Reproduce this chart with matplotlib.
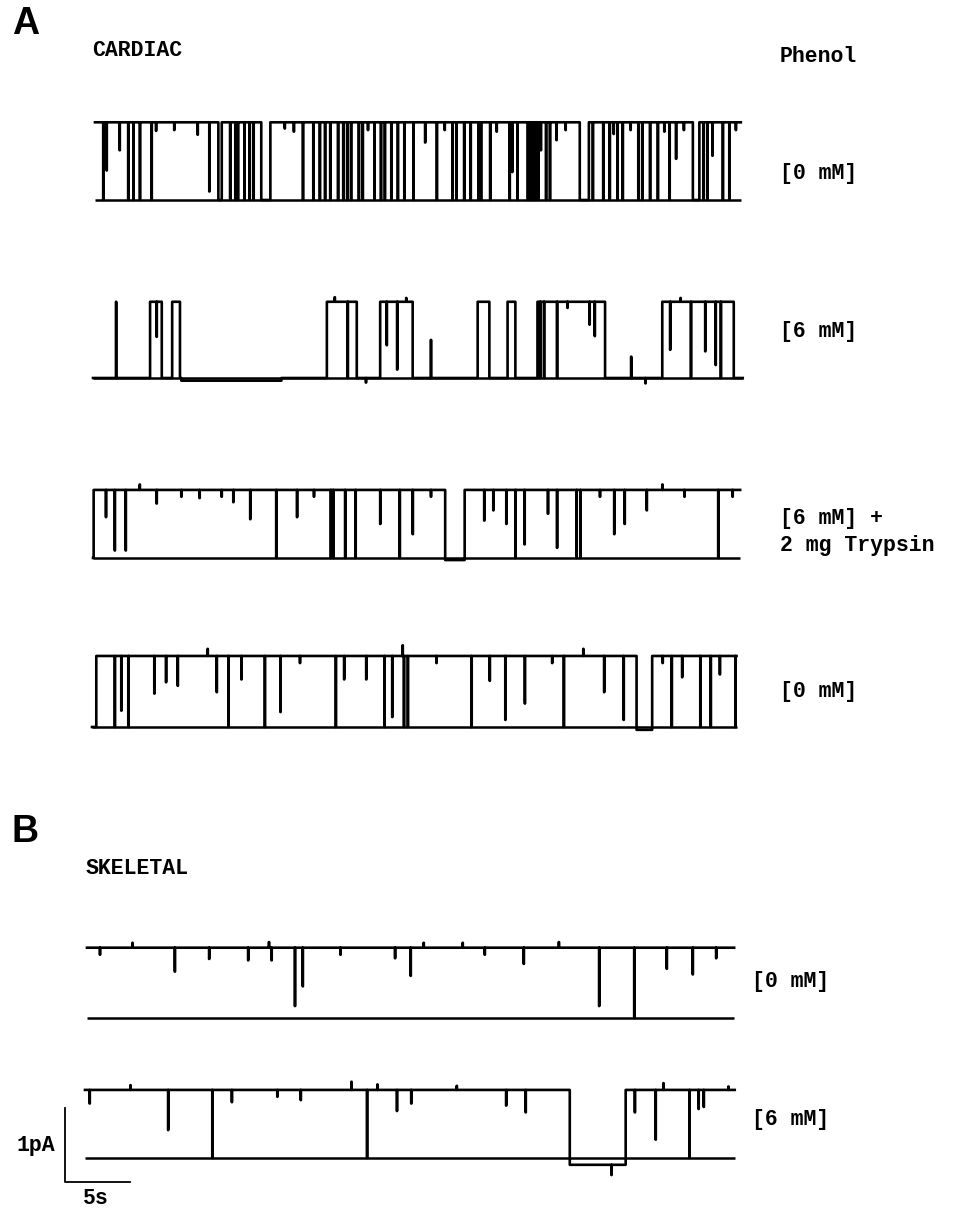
import numpy as np
import matplotlib.pyplot as plt

# single-channel records, time in s, level as fraction of unitary current
# (1 = open, 0 = closed); spikes are brief excursions (t, level)

a1_dur = 49.7
a1_amp = 1.05
a1_base = 1
a1_periods = [(9.5, 9.75, 0), (12.8, 13.5, 0), (37.3, 38.0, 0), (46.0, 46.5, 0)]
a1_spikes = [(0.64, 0), (2.56, 0), (2.95, 0), (3.46, 0), (4.36, 0), (10.4, 0), (10.8, 0),
             (11.0, 0), (11.5, 0), (11.9, 0), (12.2, 0), (16.0, 0), (16.8, 0), (17.3, 0),
             (17.7, 0), (18.1, 0), (18.7, 0), (19.1, 0), (19.4, 0), (19.7, 0), (20.3, 0),
             (20.6, 0), (21.5, 0), (22.0, 0), (22.3, 0), (22.8, 0), (23.3, 0), (23.8, 0),
             (24.5, 0), (26.3, 0), (27.5, 0), (27.8, 0), (28.4, 0), (28.9, 0), (29.5, 0),
             (29.7, 0), (30.4, 0), (31.9, 0), (32.5, 0), (33.3, 0), (33.5, 0), (33.7, 0),
             (33.9, 0), (34.1, 0), (34.7, 0), (35.0, 0), (38.3, 0), (39.1, 0), (39.6, 0),
             (40.2, 0), (40.6, 0), (41.8, 0), (42.1, 0), (42.7, 0), (43.3, 0), (44.2, 0),
             (46.8, 0), (47.1, 0), (48.3, 0), (48.8, 0),
             (0.9, 0.38), (1.9, 0.64), (4.7, 0.89), (7.9, 0.84), (8.8, 0.11), (25.4, 0.74),
             (32.1, 0.36), (34.3, 0.64), (35.5, 0.77), (44.7, 0.53), (47.5, 0.57),
             (6.1, 0.9), (14.6, 0.92), (15.3, 0.88), (21.0, 0.9), (26.9, 0.9), (30.9, 0.88),
             (36.2, 0.9), (39.9, 0.85), (41.2, 0.9), (43.8, 0.88), (45.3, 0.9), (49.3, 0.9)]

a2_dur = 50.0
a2_amp = 1.03
a2_base = 0
a2_periods = [(4.4, 5.3, 1), (6.1, 6.7, 1), (18.0, 20.3, 1), (22.1, 24.6, 1), (29.6, 30.5, 1),
              (31.9, 32.5, 1), (34.2, 39.4, 1), (43.8, 49.3, 1), (6.8, 14.5, -0.035)]
a2_spikes = [(1.78, 1.0), (26.0, 0.5), (41.4, 0.28), (4.9, 0.54), (19.6, 0.0), (22.6, 0.43),
             (23.4, 0.11), (34.4, 0.0), (34.7, 0.0), (35.7, 0.0), (38.2, 0.7), (38.6, 0.55),
             (44.4, 0.37), (46.0, 0.0), (47.1, 0.35), (47.9, 0.17), (48.3, 0.0),
             (18.6, 1.06), (24.1, 1.05), (36.5, 0.92), (45.2, 1.05), (21.0, -0.06), (42.5, -0.07)]

a3_dur = 49.8
a3_amp = 0.92
a3_base = 1
a3_periods = [(0.0, 0.06, 0), (27.1, 28.6, -0.03)]
a3_spikes = [(14.1, 0), (18.3, 0), (18.5, 0), (19.4, 0), (20.2, 0), (23.6, 0), (32.5, 0),
             (37.2, 0), (37.5, 0), (48.1, 0), (1.68, 0.11), (2.53, 0.11),
             (1.0, 0.6), (4.9, 0.8), (10.8, 0.82), (12.1, 0.57), (15.7, 0.6), (22.1, 0.5),
             (24.6, 0.35), (30.1, 0.55), (30.8, 0.7), (31.8, 0.5), (33.2, 0.2), (35.0, 0.65),
             (35.7, 0.15), (40.1, 0.35), (40.9, 0.5), (42.6, 0.7),
             (3.6, 1.08), (6.8, 0.9), (8.2, 0.88), (9.9, 0.9), (17.0, 0.9), (26.0, 0.9),
             (39.0, 0.9), (43.8, 1.08), (45.5, 0.9), (49.2, 0.9)]

a4_dur = 49.6
a4_amp = 0.96
a4_base = 1
a4_periods = [(0.0, 0.34, 0), (41.9, 43.1, -0.04)]
a4_spikes = [(1.76, 0), (2.8, 0), (10.5, 0), (13.3, 0), (18.75, 0), (22.5, 0), (24.0, 0),
             (24.3, 0), (29.2, 0), (36.3, 0), (44.6, 0), (46.8, 0), (47.6, 0), (49.5, 0),
             (31.8, 0.1), (23.9, 1.15),
             (2.26, 0.23), (4.8, 0.47), (5.7, 0.63), (6.6, 0.58), (9.6, 0.49), (11.5, 0.67),
             (14.5, 0.21), (19.4, 0.67), (21.1, 0.67), (23.1, 0.14), (30.6, 0.65), (33.3, 0.33),
             (39.4, 0.49), (40.9, 0.1), (45.4, 0.7), (48.3, 0.74),
             (8.9, 1.1), (16.0, 0.9), (26.5, 0.9), (35.4, 0.9), (37.8, 1.1), (43.9, 0.9)]

b1_dur = 49.8
b1_amp = 0.95
b1_base = 1
b1_periods = []
b1_spikes = [(42.1, 0.0), (16.0, 0.17), (16.6, 0.45), (39.4, 0.17), (6.76, 0.66), (24.9, 0.6),
             (33.6, 0.77), (44.6, 0.7), (46.6, 0.62), (9.4, 0.84), (12.4, 0.82), (14.2, 0.82),
             (23.7, 0.85), (1.0, 0.9), (3.5, 1.07), (14.0, 1.08), (19.5, 0.9), (25.9, 1.07),
             (28.9, 1.07), (30.6, 0.9), (36.3, 1.08), (48.4, 0.85)]

b2_dur = 50.0
b2_amp = 0.92
b2_base = 1
b2_periods = [(37.3, 41.6, -0.1)]
b2_spikes = [(9.8, 0), (21.7, 0), (46.5, 0), (20.5, 1.12), (40.5, -0.25),
             (0.35, 0.8), (6.4, 0.41), (11.3, 0.82), (16.6, 0.85), (24.0, 0.69), (25.1, 0.8),
             (32.4, 0.77), (33.9, 0.67), (42.3, 0.67), (43.9, 0.27), (47.2, 0.72), (47.6, 0.75),
             (3.5, 1.07), (14.8, 0.9), (22.5, 1.08), (28.6, 1.06), (44.5, 1.1), (49.5, 1.05)]

traces = [
    (a1_dur, a1_amp, a1_base, a1_periods, a1_spikes),
    (a2_dur, a2_amp, a2_base, a2_periods, a2_spikes),
    (a3_dur, a3_amp, a3_base, a3_periods, a3_spikes),
    (a4_dur, a4_amp, a4_base, a4_periods, a4_spikes),
    (b1_dur, b1_amp, b1_base, b1_periods, b1_spikes),
    (b2_dur, b2_amp, b2_base, b2_periods, b2_spikes),
]
# where each trace starts (px) and its closed level (px)
starts_px = [95, 93, 93, 92, 87, 85]
closed_px = [200, 378, 558, 727, 1018, 1158]

W, H = 956, 1209
PX_S = 13.0    # px per second
PX_PA = 74.0   # px per pA
DT = 0.02


def build(dur, base, periods, spikes):
    t = np.arange(0, dur, DT)
    lev = np.full(t.size, float(base))
    for t0, t1, l in periods:
        lev[(t >= t0) & (t < t1)] = l
    for ts, l in spikes:
        i = min(int(round(ts / DT)), t.size - 1)
        lev[i] = l
    return t, lev


fig = plt.figure(figsize=(W / 100, H / 100), dpi=100)
ax = fig.add_axes([0, 0, 1, 1])
ax.axis('off')
ax.set_xlim(-95 / PX_S, (W - 95) / PX_S)
ax.set_ylim(0, H / PX_PA)

for (dur, amp, base, periods, spikes), sp, cp in zip(traces, starts_px, closed_px):
    x0 = (sp - 95) / PX_S
    y0 = (H - cp) / PX_PA
    t, lev = build(dur, base, periods, spikes)
    ax.plot([x0, x0 + dur], [y0, y0], color='k', lw=1.8, solid_capstyle='butt')
    ax.plot(x0 + t, y0 + lev * amp, color='k', lw=1.9, drawstyle='steps-mid')

# scale bar: 1 pA, 5 s
sb_x = (65 - 95) / PX_S
sb_y = (H - 1182) / PX_PA
ax.plot([sb_x, sb_x, sb_x + 5], [sb_y + 1, sb_y, sb_y], color='k', lw=1.3)

mono = dict(family='Liberation Mono', weight='bold', fontsize=15.5, va='center')


def ftext(x, y, s, **kw):
    fig.text(x / W, 1 - y / H, s, **kw)


ftext(12, 24, 'A', family='Liberation Sans', weight='bold', fontsize=27, va='center')
ftext(12, 832, 'B', family='Liberation Sans', weight='bold', fontsize=27, va='center')
ftext(92, 50, 'CARDIAC', **mono)
ftext(86, 868, 'SKELETAL', **mono)
ftext(780, 57, 'Phenol', **mono)
ftext(780, 174, '[0 mM]', **mono)
ftext(780, 331, '[6 mM]', **mono)
ftext(780, 519, '[6 mM] +', **mono)
ftext(780, 546, '2 mg Trypsin', **mono)
ftext(780, 691, '[0 mM]', **mono)
ftext(752, 982, '[0 mM]', **mono)
ftext(752, 1120, '[6 mM]', **mono)
ftext(17, 1146, '1pA', **mono)
ftext(83, 1199, '5s', **mono)

fig.savefig('out.png', dpi=100)
